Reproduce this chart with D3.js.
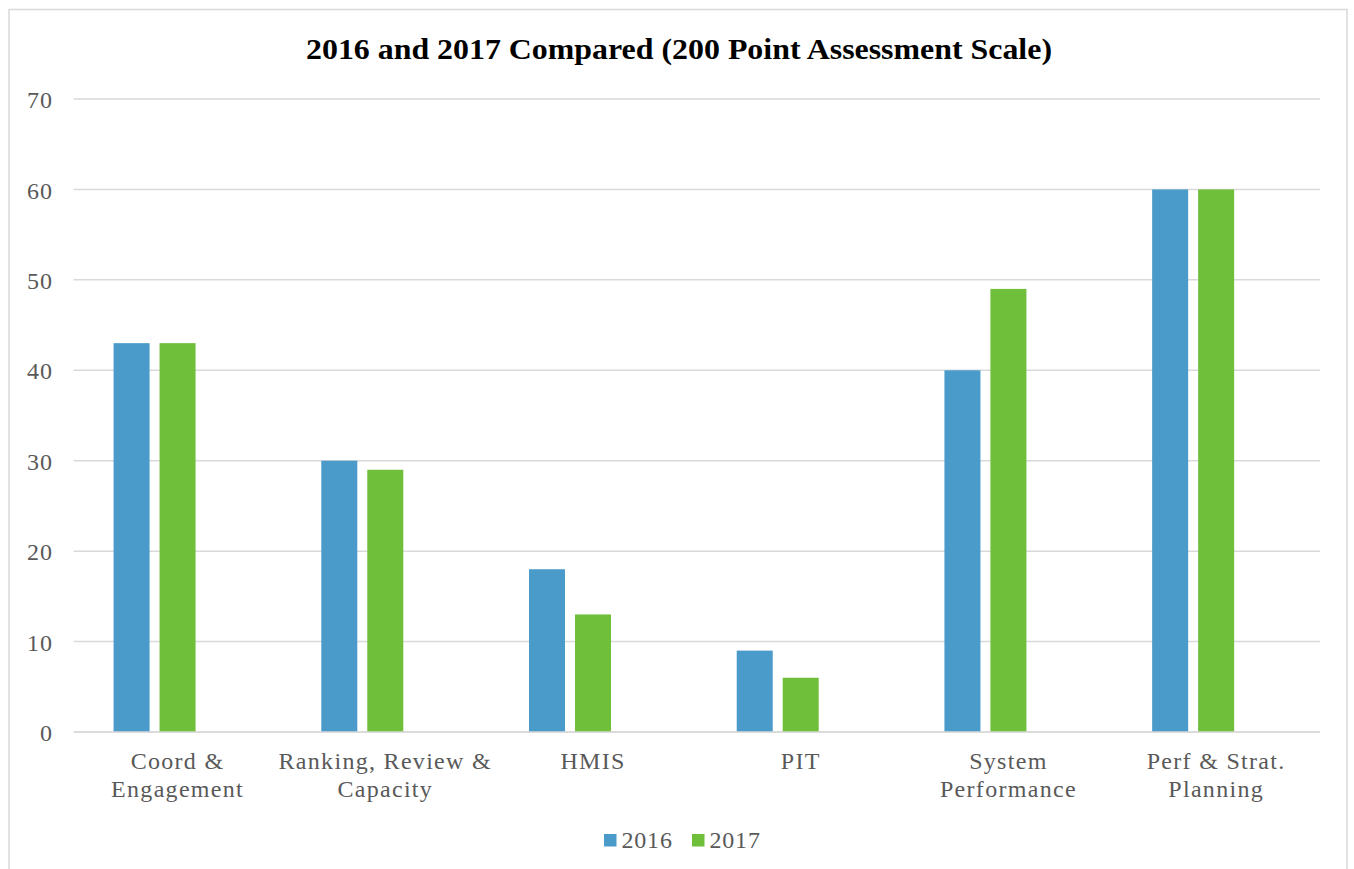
<!DOCTYPE html>
<html>
<head>
<meta charset="utf-8">
<script src="https://cdn.jsdelivr.net/npm/d3@7"></script>
</head>
<body style="margin:0;padding:0;background:#fff">
<svg id="chart" width="1354" height="869" style="display:block"></svg>
<script>
// ---- data ----
const categories = ["Coord & Engagement", "Ranking, Review & Capacity", "HMIS", "PIT", "System Performance", "Perf & Strat. Planning"];
const categoryLines = [["Coord &", "Engagement"], ["Ranking, Review &", "Capacity"], ["HMIS"], ["PIT"], ["System", "Performance"], ["Perf & Strat.", "Planning"]];
const seriesNames = ["2016", "2017"];
const values2016 = [43, 30, 18, 9, 40, 60];
const values2017 = [43, 29, 13, 6, 49, 60];
const yTicks = [0, 10, 20, 30, 40, 50, 60, 70];
const titleText = "2016 and 2017 Compared (200 Point Assessment Scale)";

// ---- style ----
const FONT = "'Liberation Serif'";
const colors = { "2016": "#4a9bca", "2017": "#70bf3a" };
const textGray = "#595959";
const gridGray = "#d9d9d9";

const svg = d3.select("#chart");
const plot = { left: 73.7, right: 1320, top: 99, bottom: 732 };

// chart border
svg.append("rect")
  .attr("x", 9).attr("y", 9.5)
  .attr("width", 1338).attr("height", 880)
  .attr("fill", "#fff").attr("stroke", gridGray).attr("stroke-width", 1.5);

// title (slightly widened like the original rendering)
svg.append("text")
  .style("font-family", FONT)
  .style("font-size", "30px").style("font-weight", "bold")
  .attr("x", 679).attr("y", 59)
  .attr("text-anchor", "middle")
  .attr("textLength", 746).attr("lengthAdjust", "spacingAndGlyphs")
  .attr("fill", "#000")
  .text(titleText);

const y = d3.scaleLinear().domain([0, 70]).range([plot.bottom, plot.top]);
const x = d3.scaleBand().domain(categories).range([plot.left, plot.right]).padding(0);
// third (empty) slot: original Excel chart reserves room for an unused series
const xInner = d3.scaleBand().domain([...seriesNames, "_empty"]).range([0, x.bandwidth()])
  .paddingInner(0.217).paddingOuter(0.867);

// gridlines
svg.append("g")
  .selectAll("line").data(yTicks).join("line")
  .attr("x1", plot.left).attr("x2", plot.right)
  .attr("y1", d => y(d)).attr("y2", d => y(d))
  .attr("stroke", gridGray).attr("stroke-width", 1.5);

// y labels
const yAxis = d3.axisLeft(y).tickValues(yTicks).tickSize(0).tickPadding(0);
const gy = svg.append("g").attr("transform", "translate(53,0)").call(yAxis);
gy.attr("font-family", null).attr("font-size", null);
gy.select(".domain").remove();
gy.selectAll("text")
  .style("font-family", FONT).style("font-size", "24px").style("letter-spacing", "1px")
  .attr("fill", textGray)
  .attr("dy", "0.36em").attr("x", 0);

// bars
const data = categories.map((c, i) => ({ cat: c, vals: [
  { s: "2016", v: values2016[i] }, { s: "2017", v: values2017[i] } ] }));

const groups = svg.append("g").selectAll("g").data(data).join("g")
  .attr("transform", d => `translate(${x(d.cat)},0)`);
groups.selectAll("rect").data(d => d.vals).join("rect")
  .attr("x", d => xInner(d.s))
  .attr("width", xInner.bandwidth())
  .attr("y", d => y(d.v))
  .attr("height", d => y(0) - y(d.v))
  .attr("fill", d => colors[d.s]);

// x axis line
svg.append("line")
  .attr("x1", plot.left).attr("x2", plot.right)
  .attr("y1", y(0)).attr("y2", y(0))
  .attr("stroke", gridGray).attr("stroke-width", 1.5);

// x labels
const xl = svg.append("g").selectAll("text").data(categories).join("text")
  .style("font-family", FONT).style("font-size", "24px").style("letter-spacing", "1.3px")
  .attr("x", d => x(d) + x.bandwidth() / 2)
  .attr("y", 769)
  .attr("text-anchor", "middle")
  .attr("fill", textGray);
xl.each(function(d, i) {
  const t = d3.select(this);
  categoryLines[i].forEach((line, j) => {
    t.append("tspan").attr("x", x(d) + x.bandwidth() / 2).attr("dy", j === 0 ? 0 : 28).text(line);
  });
});

// legend
const legendX = [604, 692];
const leg = svg.append("g").selectAll("g").data(seriesNames).join("g")
  .attr("transform", (d, i) => `translate(${legendX[i]},834)`);
leg.append("rect").attr("width", 12.5).attr("height", 12.5).attr("fill", d => colors[d]);
leg.append("text").style("font-family", FONT).style("font-size", "24px").style("letter-spacing", "0.8px")
  .attr("x", 17.5).attr("y", 14).attr("fill", textGray).text(d => d);
</script>
</body>
</html>
